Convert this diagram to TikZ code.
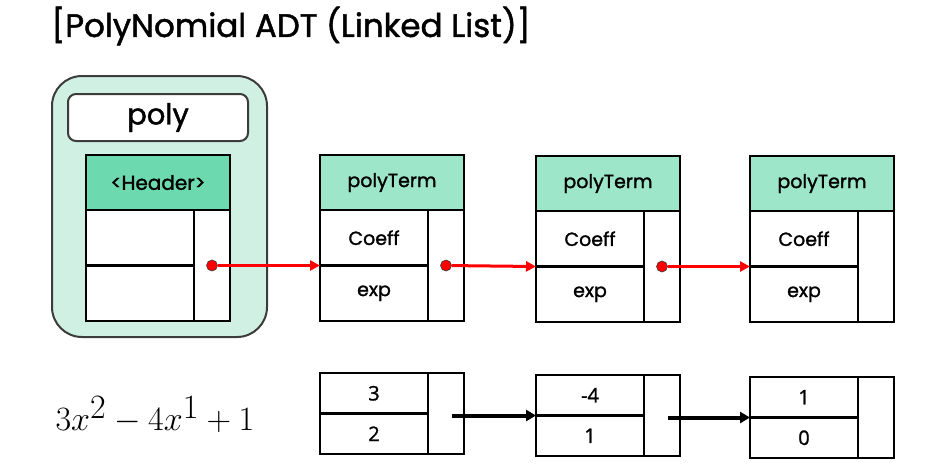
\documentclass[tikz,border=0pt]{standalone}
\usepackage{fontspec}
\setmainfont{Poppins}[FakeBold=1.4]
\newfontfamily\numfont{Open Sans}[FakeBold=1.2]
\usepackage{tikz}
\usetikzlibrary{arrows.meta}
\definecolor{framegreen}{HTML}{CFF0E3}
\definecolor{headgreen}{HTML}{6DD9AE}
\definecolor{termgreen}{HTML}{9EE6CA}
\definecolor{linkred}{HTML}{FF0000}
\definecolor{edgegray}{HTML}{3C3C3C}
\newcommand{\tikztermrecord}[6]{%
    \node[cell, #3, minimum width=144pt, minimum height=55pt, anchor=north west] (#1head) at (#2) {#4};
    \node[cell, minimum width=108pt, minimum height=55.5pt, anchor=north west] (#1coeff) at (#1head.south west) {#5};
    \node[cell, minimum width=108pt, minimum height=55.5pt, anchor=north west] (#1exp) at (#1coeff.south west) {#6};
    \node[cell, minimum width=36pt, minimum height=111pt, anchor=north west] (#1link) at (#1coeff.north east) {};
}
\newcommand{\tikzvaluerecord}[4]{%
    \node[cell, valtext, minimum width=108pt, minimum height=40.5pt, anchor=north west] (#1coeff) at (#2) {#3};
    \node[cell, valtext, minimum width=108pt, minimum height=40.5pt, anchor=north west] (#1exp) at (#1coeff.south west) {#4};
    \node[cell, minimum width=36pt, minimum height=81pt, anchor=north west] (#1link) at (#1coeff.north east) {};
}

\begin{document}
\begin{tikzpicture}[x=1pt, y=-1pt,
    cell/.style={draw=black, fill=white, line width=2.2pt, inner sep=0pt, outer sep=0pt, font=\fontsize{19}{22}\selectfont},
    valtext/.style={font=\numfont\fontsize{20}{22}\selectfont},
    linkdot/.style={circle, fill=linkred, draw=edgegray, line width=0.6pt, minimum size=11pt, inner sep=0pt},
    redlink/.style={-{Triangle[length=10pt, width=10pt]}, line width=3pt, linkred},
    blacklink/.style={-{Triangle[length=10pt, width=11pt]}, line width=4pt, black}]
    \useasboundingbox (0,0) rectangle (949,472);

    \node[anchor=west, font=\fontsize{32.5}{36}\selectfont] (title) at (48,26) {[PolyNomial ADT (Linked List)]};

    % poly header
    \node[draw=edgegray, fill=framegreen, line width=2pt, rounded corners=30pt, minimum width=215pt, minimum height=261pt, anchor=north west] (polyframe) at (51,75) {};
    \node[draw=edgegray, fill=white, line width=2pt, rounded corners=8pt, minimum width=180pt, minimum height=47pt, font=\fontsize{29}{30}\selectfont] (polyname) at (158,117.5) {poly};
    \tikztermrecord{P}{86,155}{fill=headgreen, font=\fontsize{20}{22}\selectfont}{<Header>}{}{}

    % polyTerm nodes
    \tikztermrecord{T1}{320,155}{fill=termgreen}{polyTerm}{Coeff}{exp}
    \tikztermrecord{T2}{536,156}{fill=termgreen}{polyTerm}{Coeff}{exp}
    \tikztermrecord{T3}{750,156}{fill=termgreen}{polyTerm}{Coeff}{exp}

    \node[linkdot] (Pdot) at (Plink.center) {};
    \node[linkdot] (T1dot) at (T1link.center) {};
    \node[linkdot] (T2dot) at (T2link.center) {};
    \draw[redlink] (Pdot) -- (T1coeff.south west);
    \draw[redlink] (T1dot) -- (T2coeff.south west);
    \draw[redlink] (T2dot) -- (T3coeff.south west);

    % example values
    \node[scale=1.37] (formula) at (155,415) {\fontsize{37}{40}\selectfont $3x^2-4x^1+1$};
    \tikzvaluerecord{V1}{320,373}{3}{2}
    \tikzvaluerecord{V2}{536,375}{-4}{1}
    \tikzvaluerecord{V3}{750,377}{1}{0}

    \coordinate (V1out) at ([xshift=6pt]V1link.center |- V2coeff.south west);
    \coordinate (V2out) at ([xshift=6pt]V2link.center |- V3coeff.south west);
    \draw[blacklink] (V1out) -- (V2coeff.south west);
    \draw[blacklink] (V2out) -- (V3coeff.south west);
\end{tikzpicture}
\end{document}
